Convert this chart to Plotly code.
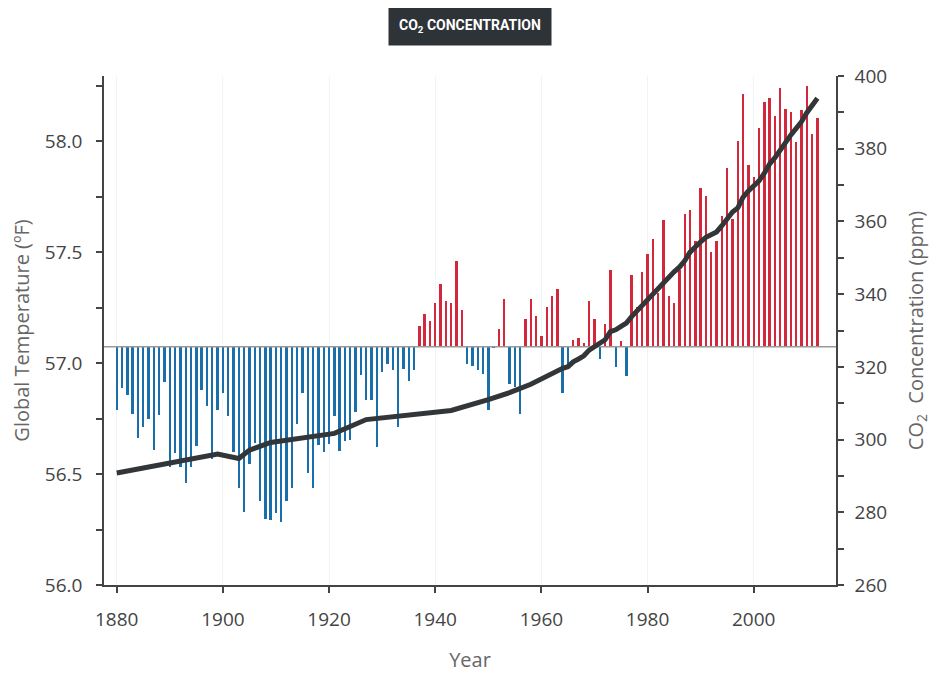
import plotly.graph_objects as go

# ---------------- data ----------------
years = list(range(1880, 2013))
temps_f = [
    56.79, 56.886, 56.854, 56.77, 56.66, 56.71, 56.746, 56.61, 56.764, 56.913,   # 1880-1889
    56.53, 56.596, 56.53, 56.46, 56.53, 56.625, 56.88, 56.805, 56.566, 56.787,   # 1890-1899
    56.866, 56.76, 56.598, 56.435, 56.327, 56.545, 56.64, 56.378, 56.296, 56.291, # 1900-1909
    56.323, 56.282, 56.38, 56.438, 56.727, 56.865, 56.506, 56.438, 56.63, 56.598, # 1910-1919
    56.634, 56.763, 56.605, 56.647, 56.653, 56.778, 56.947, 56.833, 56.833, 56.623, # 1920-1929
    56.96, 56.995, 56.967, 56.71, 56.975, 56.92, 56.968, 57.168, 57.22, 57.19,   # 1930-1939
    57.27, 57.357, 57.278, 57.27, 57.46, 57.237, 56.995, 56.986, 56.967, 56.949, # 1940-1949
    56.79, 57.066, 57.155, 57.29, 56.905, 56.89, 56.77, 57.197, 57.29, 57.213,   # 1950-1959
    57.12, 57.254, 57.30, 57.335, 56.863, 56.985, 57.104, 57.113, 57.091, 57.279, # 1960-1969
    57.197, 57.02, 57.176, 57.419, 56.98, 57.10, 56.94, 57.396, 57.254, 57.41,   # 1970-1979
    57.49, 57.559, 57.314, 57.646, 57.303, 57.269, 57.419, 57.67, 57.688, 57.55, # 1980-1989
    57.79, 57.752, 57.499, 57.551, 57.662, 57.88, 57.65, 58.0, 58.21, 57.89,     # 1990-1999
    57.84, 58.06, 58.177, 58.195, 58.114, 58.24, 58.143, 58.129, 57.996, 58.141, # 2000-2009
    58.25, 58.03, 58.105,                                                         # 2010-2012
]
BASELINE_F = 57.073

co2_years = [1880, 1887, 1899, 1903, 1905, 1909, 1921, 1927, 1933, 1943, 1950, 1954, 1958,
             1959, 1960, 1961, 1962, 1963, 1964, 1965, 1966, 1967, 1968, 1969,
             1970, 1971, 1972, 1973, 1974, 1975, 1976, 1977, 1978, 1979,
             1980, 1981, 1982, 1983, 1984, 1985, 1986, 1987, 1988, 1989,
             1990, 1991, 1992, 1993, 1994, 1995, 1996, 1997, 1998, 1999,
             2000, 2001, 2002, 2003, 2004, 2005, 2006, 2007, 2008, 2009,
             2010, 2011, 2012]
co2_ppm = [290.8, 292.6, 296.0, 294.8, 297.1, 299.2, 301.7, 305.5, 306.5, 308.0, 311.0, 312.9, 315.2,
           315.97, 316.91, 317.64, 318.45, 318.99, 319.62, 320.04, 321.38, 322.16, 323.04, 324.62,
           325.68, 326.32, 327.45, 329.68, 330.18, 331.11, 332.04, 333.83, 335.40, 336.84,
           338.75, 340.11, 341.45, 343.05, 344.65, 346.12, 347.42, 349.19, 351.57, 353.12,
           354.39, 355.61, 356.45, 357.10, 358.83, 360.82, 362.61, 363.73, 366.70, 368.38,
           369.55, 371.14, 373.28, 375.80, 377.52, 379.80, 381.90, 383.79, 385.60, 387.43,
           389.90, 391.65, 393.85]

x_ticks = [1880, 1900, 1920, 1940, 1960, 1980, 2000]
temp_ticks = [56.0, 56.5, 57.0, 57.5, 58.0]
co2_ticks = [260, 280, 300, 320, 340, 360, 380, 400]

X_RANGE = [1877.6, 2015.5]
RED = "#d3283b"
BLUE = "#1a6fab"

# ---------------- figure ----------------
fig = go.Figure()

fig.add_trace(go.Bar(
    x=years,
    y=[t - BASELINE_F for t in temps_f],
    base=BASELINE_F,
    width=0.45,
    marker=dict(color=[RED if t >= BASELINE_F else BLUE for t in temps_f], line=dict(width=0)),
    showlegend=False,
    hoverinfo="x+y",
))

fig.add_trace(go.Scatter(
    x=X_RANGE, y=[BASELINE_F, BASELINE_F], mode="lines",
    line=dict(color="#9a9a9a", width=1.5), showlegend=False, hoverinfo="skip",
))

fig.add_trace(go.Scatter(
    x=co2_years, y=co2_ppm, yaxis="y2", mode="lines",
    line=dict(color="#333638", width=5), showlegend=False,
))

axis_font = dict(family="Open Sans", size=19, color="#444")
title_font = dict(family="Open Sans", size=20, color="#666")

fig.update_layout(
    width=923, height=665,
    margin=dict(l=96, r=95, t=68, b=88),
    paper_bgcolor="white", plot_bgcolor="white",
    bargap=0,
    xaxis=dict(
        range=X_RANGE, tickvals=x_ticks, ticks="outside", ticklen=6, tickwidth=1.5,
        tickcolor="#444", showline=True, linecolor="#444", linewidth=1.5,
        showgrid=True, gridcolor="#eef4fa", gridwidth=1, zeroline=False,
        tickfont=axis_font, ticklabelstandoff=10, automargin=False,
        title=dict(text="Year", font=title_font, standoff=34),
    ),
    yaxis=dict(
        range=[56.0, 58.293], tickvals=temp_ticks, tickformat=".1f",
        ticks="outside", ticklen=6, tickwidth=1.5, tickcolor="#444",
        minor=dict(dtick=0.25, tick0=56.0, ticks="outside", ticklen=6, tickwidth=1.5, tickcolor="#444", showgrid=False),
        showline=True, linecolor="#444", linewidth=1.5, showgrid=False, zeroline=False,
        tickfont=axis_font, ticklabelstandoff=10, automargin=False,
        title=dict(text="Global Temperature (ºF)", font=title_font, standoff=12),
    ),
    yaxis2=dict(
        overlaying="y", side="right", range=[260, 400], tickvals=co2_ticks,
        ticks="outside", ticklen=6, tickwidth=1.5, tickcolor="#444",
        minor=dict(dtick=10, tick0=260, ticks="outside", ticklen=6, tickwidth=1.5, tickcolor="#444", showgrid=False),
        showline=True, linecolor="#444", linewidth=1.5, showgrid=False, zeroline=False,
        tickfont=axis_font, ticklabelstandoff=7, automargin=False,
        title=dict(text="CO<sub>2</sub>  Concentration (ppm)", font=title_font, standoff=40),
    ),
    annotations=[dict(
        text="<b>CO<sub>2</sub> CONCENTRATION</b>",
        xref="paper", yref="paper", x=0.5, y=1.098, xanchor="center", yanchor="middle",
        showarrow=False, bgcolor="#2e3338", borderpad=10,
        font=dict(family="Roboto", size=14, color="white"),
    )],
)

fig.write_html("out.html")
